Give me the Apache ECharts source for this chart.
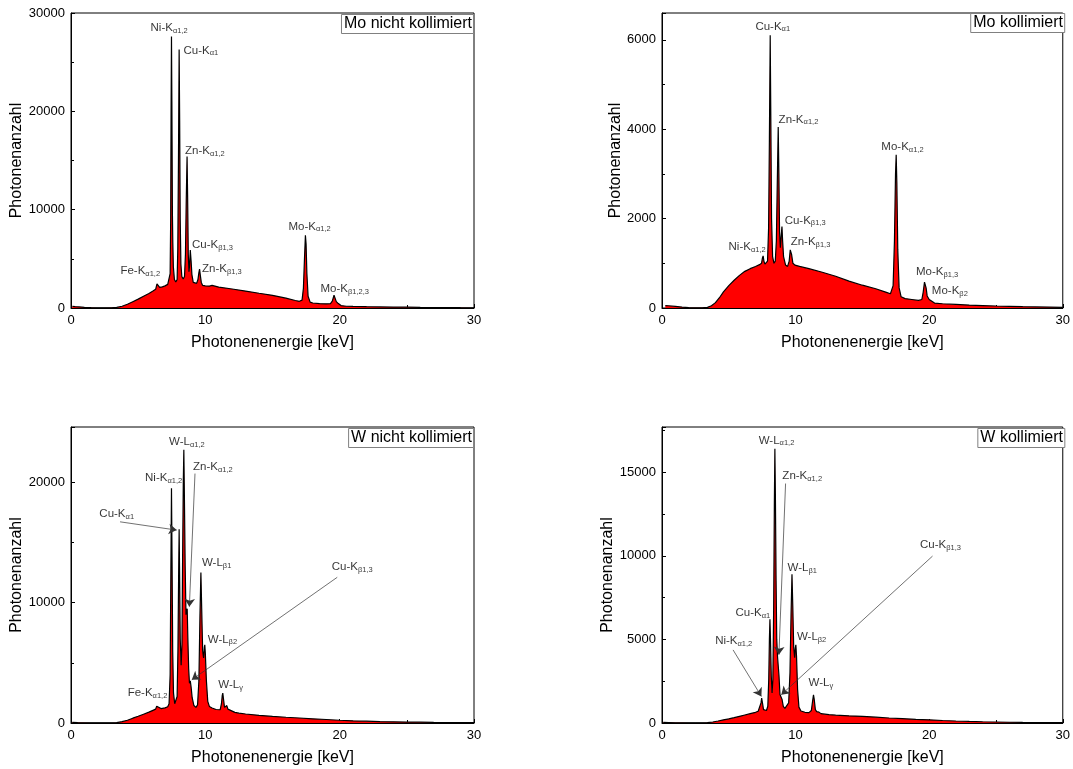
<!DOCTYPE html>
<html>
<head>
<meta charset="utf-8">
<script src="https://cdn.jsdelivr.net/npm/echarts@6/dist/echarts.min.js"></script>
<style>html,body{margin:0;padding:0;background:#fff}#c{width:1073px;height:769px}</style>
</head>
<body>
<div id="c"></div>
<script>
// ---------- data: [energy keV, photon count] ----------
const moUnkollimiert = [[0.1,180],[0.3,140],[0.6,110],[1.0,70],[1.5,30],[2.0,10],[2.5,5],[3.0,15],[3.4,60],[3.8,180],[4.2,380],[4.6,640],[5.0,900],[5.4,1200],[5.8,1480],[6.1,1720],[6.3,1900],[6.4,2450],[6.45,2550],[6.5,2250],[6.6,2100],[6.8,2150],[7.0,2250],[7.2,2400],[7.3,2550],[7.38,3500],[7.42,9000],[7.45,20000],[7.48,27600],[7.51,21000],[7.55,9500],[7.58,6600],[7.62,4200],[7.7,2900],[7.8,2650],[7.9,2900],[7.95,6000],[8.0,15000],[8.05,26300],[8.09,19000],[8.13,9000],[8.18,4500],[8.25,3200],[8.35,2950],[8.45,3200],[8.52,5500],[8.58,11000],[8.64,15400],[8.68,11500],[8.73,5500],[8.78,3700],[8.82,4200],[8.88,5900],[8.94,4800],[9.0,3400],[9.1,2600],[9.22,2400],[9.35,2500],[9.45,2900],[9.52,3600],[9.57,3950],[9.63,3300],[9.7,2600],[9.8,2300],[10.0,2250],[10.3,2230],[10.5,2300],[10.6,2230],[11.0,2130],[12.0,1930],[13.0,1720],[14.0,1500],[15.0,1290],[16.0,1000],[16.7,760],[17.0,680],[17.2,800],[17.3,2000],[17.38,5000],[17.45,7400],[17.5,6500],[17.56,3500],[17.65,1200],[17.8,600],[18.0,510],[18.5,450],[19.0,420],[19.3,430],[19.45,700],[19.58,1300],[19.65,1200],[19.75,650],[19.9,450],[20.0,420],[20.1,250],[20.5,180],[21.0,160],[22.0,130],[23.0,110],[24.0,90],[25.0,80],[26.0,60],[27.0,50],[28.0,40],[29.0,30],[30.0,25]];

const moKollimiert = [[0.25,55],[0.5,50],[1.0,35],[1.5,20],[2.0,8],[2.5,3],[3.0,5],[3.4,15],[3.7,50],[4.0,120],[4.3,230],[4.6,360],[5.0,500],[5.4,620],[5.8,730],[6.2,820],[6.6,880],[7.0,930],[7.3,970],[7.45,1000],[7.52,1120],[7.57,1165],[7.63,1050],[7.7,980],[7.8,1000],[7.9,1050],[7.98,1800],[8.04,3800],[8.1,6100],[8.14,4500],[8.2,2000],[8.28,1150],[8.38,1000],[8.48,1050],[8.56,1500],[8.63,2800],[8.7,4050],[8.75,3000],[8.8,1700],[8.86,1350],[8.92,1600],[8.98,1820],[9.03,1500],[9.1,1150],[9.25,960],[9.4,930],[9.52,1050],[9.6,1300],[9.65,1340],[9.7,1200],[9.8,1000],[9.95,960],[10.3,930],[11.0,880],[12.0,800],[13.0,710],[14.0,600],[15.0,510],[16.0,430],[16.8,350],[17.1,320],[17.3,500],[17.4,1500],[17.48,3000],[17.53,3430],[17.58,2800],[17.65,1300],[17.75,450],[17.9,250],[18.2,210],[18.7,190],[19.2,170],[19.45,190],[19.55,350],[19.65,580],[19.7,610],[19.77,450],[19.85,270],[20.0,190],[20.1,160],[20.4,110],[21.0,95],[22.0,80],[23.0,65],[24.0,55],[25.0,45],[26.0,38],[27.0,30],[28.0,25],[29.0,20],[30.0,15]];

const wUnkollimiert = [[0.1,60],[0.5,40],[1.0,20],[1.5,10],[2.0,5],[2.5,3],[3.0,5],[3.4,30],[3.8,110],[4.2,230],[4.6,400],[5.0,560],[5.4,730],[5.8,900],[6.1,1050],[6.3,1150],[6.38,1400],[6.43,1480],[6.5,1250],[6.7,1200],[7.0,1260],[7.2,1350],[7.3,1600],[7.38,4000],[7.43,12000],[7.48,19500],[7.52,14000],[7.57,6000],[7.63,2500],[7.72,1600],[7.82,1500],[7.9,2200],[7.96,6000],[8.01,12000],[8.05,16100],[8.08,13000],[8.13,7000],[8.2,4800],[8.26,6500],[8.31,14000],[8.36,20000],[8.4,22700],[8.44,19000],[8.5,13000],[8.56,9000],[8.61,9300],[8.65,9500],[8.7,7000],[8.76,4500],[8.82,3300],[8.88,3500],[8.94,3000],[9.02,2100],[9.15,1450],[9.3,1300],[9.42,1500],[9.52,3500],[9.6,9000],[9.67,12500],[9.73,9500],[9.8,6000],[9.87,5400],[9.93,6300],[9.96,6500],[10.0,5800],[10.08,3500],[10.18,1800],[10.3,1380],[10.5,1250],[10.8,1120],[11.1,1100],[11.2,1600],[11.26,2300],[11.3,2480],[11.35,2000],[11.43,1300],[11.52,1250],[11.6,1450],[11.68,1150],[11.8,1000],[12.2,880],[12.5,820],[13.0,750],[14.0,640],[15.0,550],[16.0,480],[17.0,415],[18.0,350],[19.0,290],[20.0,230],[21.0,180],[22.0,150],[23.0,120],[24.0,100],[25.0,80],[26.0,65],[27.0,50],[28.0,40],[29.0,30],[30.0,25]];

const wKollimiert = [[0.1,40],[0.5,30],[1.0,15],[1.5,8],[2.0,4],[2.5,3],[3.0,5],[3.4,20],[3.8,60],[4.2,120],[4.6,190],[5.0,250],[5.4,320],[5.8,400],[6.2,480],[6.6,560],[7.0,640],[7.2,700],[7.34,800],[7.41,1200],[7.46,1490],[7.52,1200],[7.6,800],[7.7,720],[7.82,750],[7.92,1000],[7.99,2600],[8.04,5000],[8.08,6200],[8.12,5000],[8.18,2800],[8.24,1800],[8.3,2600],[8.36,7000],[8.41,13000],[8.45,16400],[8.49,13500],[8.54,8500],[8.59,5000],[8.65,3950],[8.7,3900],[8.76,2800],[8.83,1700],[8.88,1650],[8.93,1780],[8.99,1400],[9.08,1000],[9.2,880],[9.33,900],[9.48,1200],[9.58,3000],[9.66,6500],[9.73,8900],[9.79,7000],[9.86,4500],[9.93,3900],[9.98,4500],[10.02,4680],[10.07,4000],[10.15,2000],[10.25,950],[10.4,720],[10.7,640],[11.0,620],[11.18,750],[11.27,1300],[11.34,1680],[11.39,1450],[11.48,800],[11.58,680],[11.66,780],[11.75,650],[11.9,560],[12.5,500],[13.0,470],[14.0,430],[15.0,400],[16.0,350],[17.0,300],[18.0,260],[19.0,220],[20.0,190],[21.0,150],[22.0,120],[23.0,95],[24.0,75],[25.0,60],[26.0,45],[27.0,35],[28.0,28],[29.0,22],[30.0,18]];

// ---------- annotations: [main text, subscript, energy, count] ----------
const moUnkNotes = [['Ni-K','α1,2',5.92,28500],['Cu-K','α1',8.37,26200],['Zn-K','α1,2',8.49,16000],['Cu-K','β1,3',9.01,6450],['Zn-K','β1,3',9.75,4000],['Fe-K','α1,2',3.68,3800],['Mo-K','α1,2',16.19,8300],['Mo-K','β1,2,3',18.57,1900]];
const moKNotes = [['Cu-K','α1',6.99,6300],['Zn-K','α1,2',8.73,4220],['Mo-K','α1,2',16.42,3600],['Cu-K','β1,3',9.18,1960],['Zn-K','β1,3',9.63,1470],['Ni-K','α1,2',4.98,1360],['Mo-K','β1,3',19.01,800],['Mo-K','β2',20.2,380]];
const wUnkNotes = [['W-L','α1,2',7.30,23400],['Zn-K','α1,2',9.08,21300],['Ni-K','α1,2',5.51,20400],['Cu-K','α1',2.11,17400],['W-L','β1',9.75,13300],['Cu-K','β1,3',19.41,12950],['W-L','β2',10.18,6950],['W-L','γ',10.97,3200],['Fe-K','α1,2',4.22,2490]];
const wKNotes = [['W-L','α1,2',7.24,16900],['Zn-K','α1,2',9.01,14800],['W-L','β1',9.40,9300],['Cu-K','β1,3',19.31,10640],['Cu-K','α1',5.50,6560],['Ni-K','α1,2',3.98,4900],['W-L','β2',10.10,5160],['W-L','γ',10.97,2380]];

// ---------- arrows: [from E, from count, to E, to count] ----------
const moUnkArrows = [];
const moKArrows = [];
const wUnkArrows = [[3.65,16720,7.87,16030],[9.23,20730,8.81,9670],[19.82,12110,8.99,3590]];
const wKArrows = [[9.25,14320,8.75,4080],[20.25,9980,8.93,1690],[5.32,4370,7.44,1590]];

// ---------- axis settings ----------
const yMax = [30000, 6600, 24600, 17700];
const yInterval = [10000, 2000, 10000, 5000];
const boxTitles = ['Mo nicht kollimiert', 'Mo kollimiert', 'W nicht kollimiert', 'W kollimiert'];

const spectra = [moUnkollimiert, moKollimiert, wUnkollimiert, wKollimiert];
const notes = [moUnkNotes, moKNotes, wUnkNotes, wKNotes];
const arrows = [moUnkArrows, moKArrows, wUnkArrows, wKArrows];

const FONT = 'Liberation Sans, Arial, sans-serif';
const grids = [
  {left: 71, top: 13, width: 403, height: 295},
  {left: 662, top: 13, width: 403, height: 295},
  {left: 71, top: 427, width: 403, height: 296},
  {left: 662, top: 427, width: 403, height: 296}
];
const yNameGap = [44, 38, 44, 44];
const boxPos = [
  {right: 599, top: 14},
  {right: 8, top: 13},
  {right: 599, top: 428},
  {right: 8, top: 428}
];

const rich = {
  m: {fontSize: 11.5, fontFamily: FONT, color: '#000', lineHeight: 14, verticalAlign: 'middle'},
  s: {fontSize: 7.5, fontFamily: FONT, color: '#000', lineHeight: 6, verticalAlign: 'bottom'}
};

const xAxes = [], yAxes = [], series = [], titles = [];
for (let i = 0; i < 4; i++) {
  xAxes.push({
    gridIndex: i, type: 'value', min: 0, max: 30, interval: 10,
    axisLine: {show: true, onZero: false, lineStyle: {color: '#000', width: 1}},
    axisTick: {show: true, inside: true, length: 4, lineStyle: {color: '#000'}},
    minorTick: {show: true, splitNumber: 2, length: 3, lineStyle: {color: '#000'}},
    splitLine: {show: false},
    axisLabel: {color: '#000', fontSize: 13, fontFamily: FONT, margin: 6},
    name: 'Photonenenergie [keV]', nameLocation: 'middle', nameGap: 27,
    nameTextStyle: {color: '#000', fontSize: 16, fontFamily: FONT}
  });
  yAxes.push({
    gridIndex: i, type: 'value', min: 0, max: yMax[i], interval: yInterval[i],
    axisLine: {show: true, onZero: false, lineStyle: {color: '#000', width: 1}},
    axisTick: {show: true, inside: true, length: 4, lineStyle: {color: '#000'}},
    minorTick: {show: true, splitNumber: 2, length: 3, lineStyle: {color: '#000'}},
    splitLine: {show: false},
    axisLabel: {color: '#000', fontSize: 13, fontFamily: FONT, margin: 6,
      formatter: v => (v % yInterval[i] === 0 ? String(v) : '')},
    name: 'Photonenanzahl', nameLocation: 'middle', nameGap: yNameGap[i],
    nameTextStyle: {color: '#000', fontSize: 16, fontFamily: FONT}
  });
  series.push({
    type: 'line', xAxisIndex: i, yAxisIndex: i, data: spectra[i],
    showSymbol: false, symbol: 'none', smooth: false,
    lineStyle: {color: '#000', width: 1.2},
    areaStyle: {color: '#ff0000', opacity: 1},
    z: 2,
    markLine: {
      silent: true, animation: false,
      symbol: ['none', 'arrow'], symbolSize: 8,
      lineStyle: {color: '#333', width: 0.7, type: 'solid'},
      itemStyle: {color: '#000'},
      label: {show: false},
      data: arrows[i].map(a => [{coord: [a[0], a[1]]}, {coord: [a[2], a[3]]}])
    }
  });
  series.push({
    type: 'scatter', xAxisIndex: i, yAxisIndex: i, symbolSize: 0, z: 5,
    data: notes[i].map(n => ({value: [n[2], n[3]], main: n[0], sub: n[1]})),
    label: {
      show: true, position: 'right', distance: 0,
      formatter: p => '{m|' + p.data.main + '}{s|' + p.data.sub + '}',
      rich: rich
    },
    silent: true
  });
  titles.push(Object.assign({
    text: boxTitles[i],
    borderColor: '#808080', borderWidth: 1, backgroundColor: '#fff',
    padding: [1, 2, 1, 3],
    textStyle: {color: '#000', fontSize: 16, fontWeight: 'normal', fontFamily: FONT, lineHeight: 18}
  }, boxPos[i]));
}

const chart = echarts.init(document.getElementById('c'), null, {renderer: 'canvas'});
chart.setOption({
  animation: false,
  backgroundColor: '#fff',
  textStyle: {fontFamily: FONT},
  title: titles,
  grid: grids.map(g => Object.assign({show: true, borderColor: '#000', borderWidth: 1, backgroundColor: 'transparent', containLabel: false}, g)),
  xAxis: xAxes,
  yAxis: yAxes,
  series: series
});
</script>
</body>
</html>
